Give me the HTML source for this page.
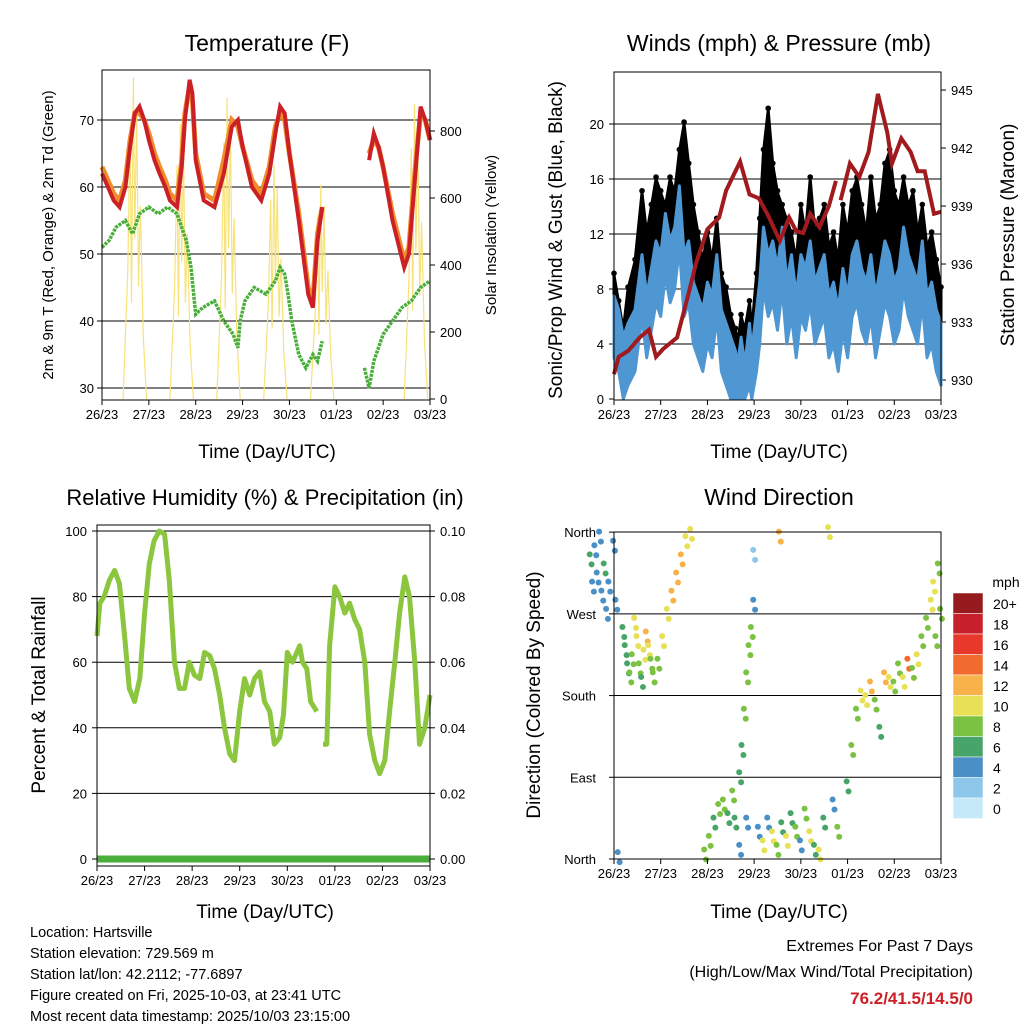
<!DOCTYPE html>
<html><head><meta charset="utf-8"><style>
body{margin:0;background:#fff;}
svg{font-family:"Liberation Sans",sans-serif;}
</style></head><body>
<svg id="s" width="1024" height="1024" xmlns="http://www.w3.org/2000/svg"></svg>
<script>
// ---- Temperature panel data (t = days since 26/23) ----
const tempT=[0,0.125,0.25,0.375,0.5,0.6,0.7,0.8,0.9,1,1.12,1.23,1.35,1.45,1.6,1.7,1.77,1.87,1.93,2,2.17,2.4,2.6,2.77,2.9,3,3.2,3.4,3.57,3.7,3.8,3.9,4,4.2,4.4,4.5,4.6,4.7,null,5.7,5.8,5.9,6,6.2,6.45,6.55,6.7,6.8,6.9,7];
const tempRed=[62,60,58,57,60,66,71,72,70,67,64,62,60,58,57,63,70,76,74,64,58,57,62,69,70,66,60,58,62,68,72,71,65,55,44,42,52,57,null,64,68,66,63,55,48,50,63,72,70,67];
const tempOrange=[63,61,59,58,61,67,71,71,70,68,65,63,61,59,58,64,71,75,73,65,59,58,64,70,69,66,61,59,63,69,71,70,65,56,45,43,53,57,null,65,67,66,63,56,49,51,64,71,70,67];
const dewT=[0,0.15,0.3,0.5,0.65,0.8,1,1.2,1.4,1.6,1.8,1.9,2.0,2.15,2.4,2.6,2.8,2.9,2.95,3.05,3.25,3.5,3.7,3.8,3.9,3.97,4.05,4.2,4.35,4.5,4.6,4.7,null,5.6,5.7,5.8,6,6.2,6.4,6.6,6.8,7];
const dewVals=[51,52,54,55,53,56,57,56,57,56,52,48,41,42,43,40,38,36,40,43,45,44,46,48,47,44,40,35,33,35,34,37,null,33,30,34,38,40,42,43,45,46];
const solarDay=[0,1,2,3,4,5,6];
const solarPeak=[960,820,900,700,640,0,880];
// ---- Winds panel ----
const windT=[0,0.1,0.2,0.3,0.45,0.6,0.7,0.8,0.9,1.0,1.1,1.2,1.3,1.4,1.5,1.6,1.7,1.8,1.9,2.0,2.1,2.2,2.3,2.4,2.5,2.6,2.65,2.72,2.8,2.9,2.95,3.05,3.12,3.2,3.3,3.4,3.5,3.6,3.7,3.8,3.9,4.0,4.1,4.2,4.3,4.4,4.5,4.6,4.7,4.8,4.9,5.0,5.1,5.2,5.3,5.4,5.5,5.6,5.7,5.8,5.9,6.0,6.1,6.2,6.3,6.4,6.5,6.6,6.7,6.8,6.9,7];
const windSpd=[6,5,3,4,5,9,6,8,10,9,12,10,11,14,9,10,7,6,5,7,6,9,5,4,3,2,1,3,1,4,2,5,7,11,9,10,8,11,7,9,6,9,8,10,7,8,9,6,7,5,8,6,9,10,8,7,9,6,8,10,9,7,8,11,9,8,7,10,6,7,5,4];
const windGust=[9,7,5,8,10,15,12,14,16,15,14,16,15,18,20,17,14,12,10,12,10,13,9,8,6,5,4,6,5,7,5,9,13,18,21,17,15,14,13,12,10,14,12,16,12,13,14,11,12,10,14,12,15,16,14,12,16,13,14,17,18,15,14,16,14,15,12,14,11,12,10,8];
const presT=[0,0.1,0.3,0.55,0.75,0.9,1.05,1.35,1.6,1.75,2.0,2.25,2.4,2.7,2.9,3.1,3.3,3.55,3.75,3.9,4.05,4.2,4.4,4.6,4.75,null,4.85,5.05,5.25,5.45,5.65,5.85,5.95,6.15,6.35,6.5,6.65,6.85,7];
const presVals=[930.3,931.2,931.5,932.2,932.6,931.2,931.6,932.2,934.5,936.0,937.8,938.4,939.8,941.3,939.6,939.4,938.5,937.2,938.4,937.7,937.6,938.6,937.9,939.0,940.3,null,939.3,941.2,940.5,941.8,944.8,942.8,941.2,942.5,941.8,940.8,940.8,938.6,938.7];
// ---- RH panel ----
const rhT=[0,0.06,0.15,0.26,0.37,0.47,0.58,0.68,0.79,0.9,1.0,1.1,1.2,1.31,1.42,1.52,1.63,1.73,1.84,1.94,2.05,2.16,2.26,2.37,2.47,2.58,2.68,2.79,2.89,3.0,3.1,3.21,3.31,3.42,3.52,3.63,3.73,3.84,3.92,4.0,4.11,4.26,4.32,4.41,4.49,4.62,null,4.75,4.83,4.89,5.0,5.1,5.21,5.31,5.42,5.52,5.63,5.73,5.84,5.94,6.05,6.15,6.26,6.36,6.47,6.57,6.68,6.78,6.89,7];
const rhVals=[68,78,80,85,88,84,68,52,48,55,75,90,97,100,99,85,60,52,52,60,56,55,63,62,58,50,40,32,30,45,55,50,55,57,48,45,35,37,44,63,60,65,60,58,48,45,null,35,35,65,83,80,75,78,73,70,60,38,30,26,30,45,60,75,86,80,60,35,40,50];
// ---- Wind direction panel ----
const dirT=[-0.5,-0.45,-0.4,-0.35,-0.3,-0.25,-0.2,-0.15,-0.1,0,0.05,0.1,0.2,0.25,0.3,0.35,0.4,0.45,0.5,0.55,0.6,0.65,0.7,0.75,0.8,0.85,0.95,1.05,1.15,1.25,1.35,1.45,1.55,1.65,1.95,2.05,2.15,2.25,2.35,2.45,2.55,2.6,2.7,2.75,2.8,2.85,2.9,2.95,3.0,2.7,2.85,3.0,3.1,3.2,3.3,3.4,3.5,3.6,3.55,3.7,3.8,3.9,4.0,4.1,4.2,4.3,4.4,4.5,4.6,4.7,4.8,5.0,5.1,5.2,5.3,5.4,5.5,5.6,5.7,5.8,5.9,6.0,6.1,6.2,6.3,6.4,6.5,6.6,6.7,6.8,6.85,6.9,6.95,7.0];
const dirDeg=[330,300,340,310,355,290,320,270,300,345,280,2,250,230,210,200,220,260,240,210,195,225,245,230,215,200,215,240,270,290,310,330,350,358,5,20,40,55,60,45,70,40,90,120,160,200,230,250,280,10,40,335,30,15,40,25,10,35,355,20,45,30,15,50,25,10,5,40,360,60,30,80,120,160,180,175,190,170,140,200,195,190,210,195,215,205,220,240,260,280,300,240,320,270];
const dirSpd=[5,4,3,4,3,4,5,4,3,4,3,3,5,6,6,7,8,9,10,7,6,9,11,10,8,7,8,9,10,12,11,12,10,9,8,7,6,7,8,6,7,5,6,6,7,8,8,7,3,4,4,2,4,9,4,10,8,5,11,10,6,8,4,7,9,6,10,5,10,4,7,6,7,8,10,9,11,7,5,12,10,8,7,9,13,8,9,7,8,9,10,8,7,8];
const legendLabels=["20+","18","16","14","12","10","8","6","4","2","0"];

const NS="http://www.w3.org/2000/svg";
const svg=document.getElementById('s');
function mk(tag,attrs,parent){const e=document.createElementNS(NS,tag);for(const k in attrs)e.setAttribute(k,attrs[k]);(parent||svg).appendChild(e);return e;}
function txt(x,y,s,size,anchor,extra){const e=mk('text',Object.assign({x:x,y:y,'font-size':size,'text-anchor':anchor||'middle',fill:'#000'},extra||{}));e.textContent=s;return e;}
function pathFrom(ts,vs,fx,fy){let d='',pen=false;for(let i=0;i<ts.length;i++){if(ts[i]===null||vs[i]===null){pen=false;continue;}d+=(pen?'L':'M')+fx(ts[i]).toFixed(1)+' '+fy(vs[i]).toFixed(1);pen=true;}return d;}
const dayLabels=["26/23","27/23","28/23","29/23","30/23","01/23","02/23","03/23"];
function speedColor(v){const c=["#c6e9f9","#8dc8ea","#4a8fc6","#48a56a","#7cc242","#e8e055","#f8b24a","#f06b2d","#e8382b","#c8202a","#961b1e"];return c[Math.max(0,Math.min(10,Math.floor((v+1)/2)))];}
function xAxis(x0,x1,yb,g){for(let i=0;i<8;i++){const x=x0+(x1-x0)*i/7;mk('line',{x1:x,y1:yb,x2:x,y2:yb+5,stroke:'#000'},g);txt(x,yb+19,dayLabels[i],13,'middle');}}

// ===== Panel 1: Temperature =====
(function(){
const g=mk('g',{});
const X0=102,X1=430,Y0=70,Y1=400;
const fx=t=>X0+(X1-X0)*t/7, fy=v=>388-(v-30)*6.7, fs=s=>399-s*0.335;
[30,40,50,60,70].forEach(v=>{mk('line',{x1:X0,x2:X1,y1:fy(v),y2:fy(v),stroke:'#000','stroke-width':1},g);mk('line',{x1:X0-5,x2:X0,y1:fy(v),y2:fy(v),stroke:'#000'},g);txt(X0-8,fy(v)+5,String(v),13,'end');});
[0,200,400,600,800].forEach(v=>{mk('line',{x1:X1,x2:X1+5,y1:fs(v),y2:fs(v),stroke:'#000'},g);txt(X1+10,fs(v)+5,String(v),13,'start');});
solarDay.forEach((d,i)=>{const p=solarPeak[i];if(!p)return;const pts=[[0.45,0],[0.55,p*0.4],[0.6,p*0.85],[0.63,p*0.3],[0.67,p],[0.7,p*0.5],[0.74,p*0.9],[0.78,p*0.35],[0.82,p*0.6],[0.88,p*0.2],[0.95,0]];
const e=mk('path',{d:pts.map((q,j)=>(j?'L':'M')+fx(d+q[0]).toFixed(1)+' '+fs(q[1]).toFixed(1)).join(''),fill:'none',stroke:'#f7e27a','stroke-width':1.2},g);});
let e=mk('path',{d:pathFrom(dewT,dewVals,fx,fy),fill:'none',stroke:'#4aae3a','stroke-width':3.5,'stroke-dasharray':'3 1'},g);
e=mk('path',{d:pathFrom(tempT,tempOrange,fx,fy),fill:'none',stroke:'#f08c2a','stroke-width':5},g);
e=mk('path',{d:pathFrom(tempT,tempRed,fx,fy),fill:'none',stroke:'#cc2027','stroke-width':4},g);
mk('rect',{x:X0,y:Y0,width:X1-X0,height:Y1-Y0,fill:'none',stroke:'#000','stroke-width':1},g);
xAxis(X0,X1,Y1,g);
txt(267,51,'Temperature (F)',23);
txt(0,0,'2m & 9m T (Red, Orange) & 2m Td (Green)',15,'middle',{transform:'translate(53,235) rotate(-90)'});
txt(0,0,'Solar Insolation (Yellow)',15,'middle',{transform:'translate(496,235) rotate(-90)'});
txt(267,458,'Time (Day/UTC)',19);
})();

// ===== Panel 2: Winds =====
(function(){
const g=mk('g',{});
const X0=614,X1=941,Y0=72,Y1=400;
const fx=t=>X0+(X1-X0)*t/7, fy=v=>399-v*13.75, fp=p=>380-(p-930)*19.33;
[0,4,8,12,16,20].forEach(v=>{if(v)mk('line',{x1:X0,x2:X1,y1:fy(v),y2:fy(v),stroke:'#000'},g);mk('line',{x1:X0-5,x2:X0,y1:fy(v),y2:fy(v),stroke:'#000'},g);txt(X0-10,fy(v)+5,String(v),13,'end');});
[930,933,936,939,942,945].forEach(v=>{mk('line',{x1:X1,x2:X1+5,y1:fp(v),y2:fp(v),stroke:'#000'},g);txt(X1+10,fp(v)+5,String(v),13,'start');});
let up='',lo='';for(let i=0;i<windT.length;i++){up+=(i?'L':'M')+fx(windT[i]).toFixed(1)+' '+fy(windGust[i]).toFixed(1);}
for(let i=windT.length-1;i>=0;i--){lo+='L'+fx(windT[i]).toFixed(1)+' '+fy(windSpd[i]+1).toFixed(1);}
let e=mk('path',{d:up+lo+'Z',fill:'#000',stroke:'#000','stroke-width':3,'stroke-linejoin':'round'},g);
windT.forEach((t,i)=>{const c=mk('circle',{cx:fx(t),cy:fy(windGust[i])-2,r:2.8,fill:'#000'},g);});
up='';lo='';for(let i=0;i<windT.length;i++){up+=(i?'L':'M')+fx(windT[i]).toFixed(1)+' '+fy(windSpd[i]+1.5).toFixed(1);}
for(let i=windT.length-1;i>=0;i--){lo+='L'+fx(windT[i]).toFixed(1)+' '+fy(Math.max(0,windSpd[i]-3)).toFixed(1);}
e=mk('path',{d:up+lo+'Z',fill:'#4f97d2',stroke:'#4f97d2','stroke-width':3,'stroke-linejoin':'round'},g);
e=mk('path',{d:pathFrom(presT,presVals,fx,fp),fill:'none',stroke:'#a01a1e','stroke-width':4},g);
mk('rect',{x:X0,y:Y0,width:X1-X0,height:Y1-Y0,fill:'none',stroke:'#000'},g);
xAxis(X0,X1,Y1,g);
txt(779,51,'Winds (mph) & Pressure (mb)',23);
txt(0,0,'Sonic/Prop Wind & Gust (Blue, Black)',19,'middle',{transform:'translate(562,240) rotate(-90)'});
txt(0,0,'Station Pressure (Maroon)',19,'middle',{transform:'translate(1014,235) rotate(-90)'});
txt(779,458,'Time (Day/UTC)',19);
})();

// ===== Panel 3: RH =====
(function(){
const g=mk('g',{});
const X0=97,X1=430,Y0=525,Y1=866;
const fx=t=>X0+(X1-X0)*t/7, fy=v=>859-v*3.28;
[0,20,40,60,80,100].forEach((v,i)=>{mk('line',{x1:X0,x2:X1,y1:fy(v),y2:fy(v),stroke:'#000'},g);mk('line',{x1:X0-5,x2:X0,y1:fy(v),y2:fy(v),stroke:'#000'},g);txt(X0-10,fy(v)+5,String(v),13,'end');
mk('line',{x1:X1,x2:X1+5,y1:fy(v),y2:fy(v),stroke:'#000'},g);txt(X1+10,fy(v)+5,(i*0.02).toFixed(2),13,'start');});
let e=mk('path',{d:pathFrom(rhT,rhVals,fx,fy),fill:'none',stroke:'#8cc63f','stroke-width':5,'stroke-linejoin':'round'},g);
e=mk('line',{x1:X0,x2:X1,y1:fy(0),y2:fy(0),stroke:'#4aae3a','stroke-width':7},g);
mk('rect',{x:X0,y:Y0,width:X1-X0,height:Y1-Y0,fill:'none',stroke:'#000'},g);
xAxis(X0,X1,Y1,g);
txt(265,505,'Relative Humidity (%) & Precipitation (in)',22);
txt(0,0,'Percent & Total Rainfall',19,'middle',{transform:'translate(45,695) rotate(-90)'});
txt(265,918,'Time (Day/UTC)',19);
})();

// ===== Panel 4: Wind direction =====
(function(){
const g=mk('g',{});
const X0=614,X1=941,Y0=532,Y1=859;
const fx=t=>X0+(X1-X0)*t/7, fy=d=>859-d*0.908;
const names=['North','East','South','West','North'];
[0,90,180,270,360].forEach((d,i)=>{if(i>0&&i<4)mk('line',{x1:X0,x2:X1,y1:fy(d),y2:fy(d),stroke:'#000'},g);mk('line',{x1:X0-5,x2:X0,y1:fy(d),y2:fy(d),stroke:'#000'},g);txt(X0-18,fy(d)+5,names[i],13,'end');});
dirT.forEach((t,i)=>{[-0.02,0.02].forEach(o=>{const c=mk('circle',{cx:fx(t+o),cy:fy(dirDeg[i])+o*250,r:3,fill:speedColor(dirSpd[i])},g);});});
mk('rect',{x:X0,y:Y0,width:X1-X0,height:Y1-Y0,fill:'none',stroke:'#000'},g);
xAxis(X0,X1,Y1,g);
txt(779,505,'Wind Direction',23);
txt(0,0,'Direction (Colored By Speed)',19,'middle',{transform:'translate(540,695) rotate(-90)'});
txt(779,918,'Time (Day/UTC)',19);
const lg=mk('g',{},g);
txt(1006,587,'mph',14,'middle',{},lg);
legendLabels.forEach((l,i)=>{const r=mk('rect',{x:953,y:593+i*20.5,width:30,height:20.5,fill:speedColor(20-i*2),stroke:'#fff','stroke-width':0.5},lg);txt(993,609+i*20.5,l,14,'start');});
})();

// ===== footer =====
const info=["Location: Hartsville","Station elevation: 729.569 m","Station lat/lon: 42.2112; -77.6897","Figure created on Fri, 2025-10-03, at 23:41 UTC","Most recent data timestamp: 2025/10/03 23:15:00"];
info.forEach((s,i)=>{txt(30,937+i*21,s,14.5,'start');});
txt(973,951,'Extremes For Past 7 Days',16,'end');
txt(973,977,'(High/Low/Max Wind/Total Precipitation)',16,'end');
txt(973,1004,'76.2/41.5/14.5/0',17,'end',{fill:'#cc2027','font-weight':'bold'});
</script>
</body></html>
